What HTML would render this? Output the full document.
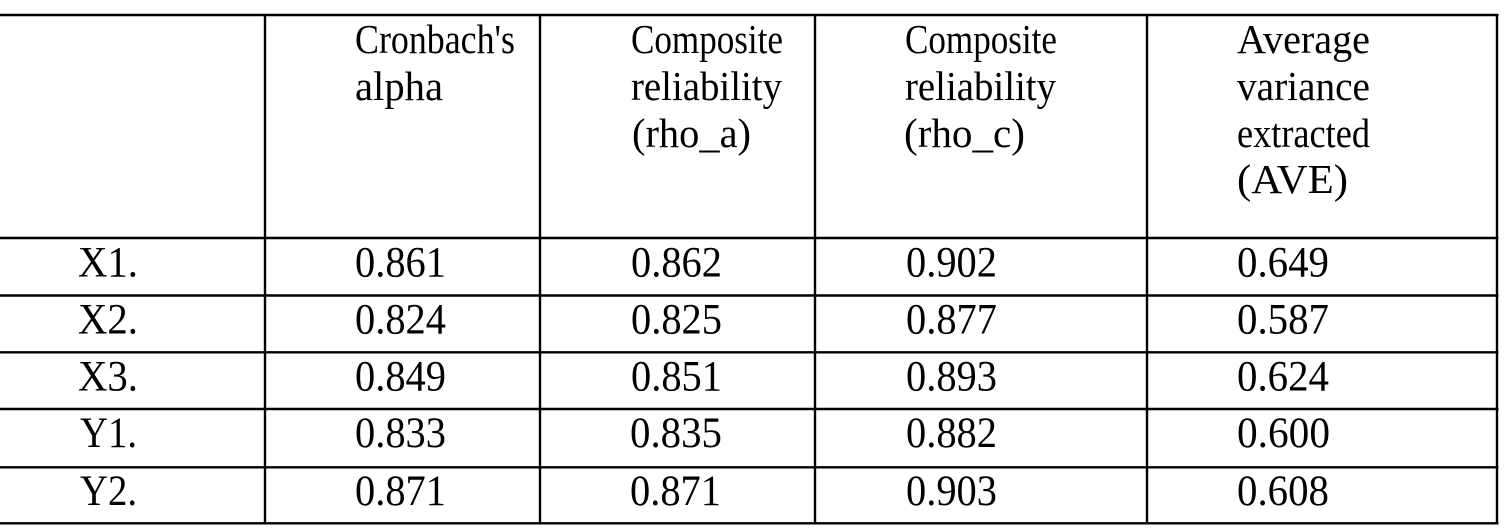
<!DOCTYPE html>
<html>
<head>
<meta charset="utf-8">
<style>
  html, body { margin:0; padding:0; background:#fff; }
  body { width:1504px; height:530px; overflow:hidden; }
  svg { display:block; }
  text { font-family: "Liberation Serif", "Times New Roman", serif; fill:#000; }
  .h { font-size:41px; }
  .v { font-size:43px; }
</style>
</head>
<body>
<svg width="1504" height="530" viewBox="0 0 1504 530" xmlns="http://www.w3.org/2000/svg">
  <rect width="1504" height="530" fill="#fff"/>
  <g stroke="#000" stroke-width="2.4" fill="none">
    <!-- horizontal lines -->
    <line x1="0" y1="15" x2="1498.5" y2="15"/>
    <line x1="0" y1="238" x2="1498.5" y2="238"/>
    <line x1="0" y1="295.5" x2="1498.5" y2="295.5"/>
    <line x1="0" y1="352.3" x2="1498.5" y2="352.3"/>
    <line x1="0" y1="409" x2="1498.5" y2="409"/>
    <line x1="0" y1="467.3" x2="1498.5" y2="467.3"/>
    <line x1="0" y1="523.3" x2="1498.5" y2="523.3"/>
    <!-- vertical lines -->
    <line x1="265" y1="14" x2="265" y2="524.5"/>
    <line x1="540" y1="14" x2="540" y2="524.5"/>
    <line x1="815" y1="14" x2="815" y2="524.5"/>
    <line x1="1147" y1="14" x2="1147" y2="524.5"/>
    <line x1="1497" y1="14" x2="1497" y2="524.5"/>
  </g>

  <!-- header -->
  <text class="h" x="355" y="53" textLength="160" lengthAdjust="spacingAndGlyphs">Cronbach's</text>
  <text class="h" x="355" y="100" textLength="88" lengthAdjust="spacingAndGlyphs">alpha</text>

  <text class="h" x="631" y="53" textLength="152" lengthAdjust="spacingAndGlyphs">Composite</text>
  <text class="h" x="631" y="100" textLength="151" lengthAdjust="spacingAndGlyphs">reliability</text>
  <text class="h" x="632" y="147" textLength="119" lengthAdjust="spacingAndGlyphs">(rho_a)</text>

  <text class="h" x="905" y="53" textLength="152" lengthAdjust="spacingAndGlyphs">Composite</text>
  <text class="h" x="905" y="100" textLength="151" lengthAdjust="spacingAndGlyphs">reliability</text>
  <text class="h" x="904" y="147" textLength="121" lengthAdjust="spacingAndGlyphs">(rho_c)</text>

  <text class="h" x="1237" y="53" textLength="133" lengthAdjust="spacingAndGlyphs">Average</text>
  <text class="h" x="1237" y="100" textLength="133" lengthAdjust="spacingAndGlyphs">variance</text>
  <text class="h" x="1237" y="147" textLength="133" lengthAdjust="spacingAndGlyphs">extracted</text>
  <text class="h" x="1237" y="193" textLength="111" lengthAdjust="spacingAndGlyphs">(AVE)</text>

  <!-- rows -->
  <g class="v">
    <text class="v" x="78" y="276.5" textLength="60" lengthAdjust="spacingAndGlyphs">X1.</text>
    <text class="v" x="355" y="276.5" textLength="91" lengthAdjust="spacingAndGlyphs">0.861</text>
    <text class="v" x="631" y="276.5" textLength="91" lengthAdjust="spacingAndGlyphs">0.862</text>
    <text class="v" x="906" y="276.5" textLength="91" lengthAdjust="spacingAndGlyphs">0.902</text>
    <text class="v" x="1237" y="276.5" textLength="92" lengthAdjust="spacingAndGlyphs">0.649</text>

    <text class="v" x="78" y="333.5" textLength="60" lengthAdjust="spacingAndGlyphs">X2.</text>
    <text class="v" x="355" y="333.5" textLength="91" lengthAdjust="spacingAndGlyphs">0.824</text>
    <text class="v" x="631" y="333.5" textLength="91" lengthAdjust="spacingAndGlyphs">0.825</text>
    <text class="v" x="906" y="333.5" textLength="91" lengthAdjust="spacingAndGlyphs">0.877</text>
    <text class="v" x="1237" y="333.5" textLength="92" lengthAdjust="spacingAndGlyphs">0.587</text>

    <text class="v" x="78" y="390.5" textLength="60" lengthAdjust="spacingAndGlyphs">X3.</text>
    <text class="v" x="355" y="390.5" textLength="91" lengthAdjust="spacingAndGlyphs">0.849</text>
    <text class="v" x="631" y="390.5" textLength="91" lengthAdjust="spacingAndGlyphs">0.851</text>
    <text class="v" x="906" y="390.5" textLength="91" lengthAdjust="spacingAndGlyphs">0.893</text>
    <text class="v" x="1237" y="390.5" textLength="92" lengthAdjust="spacingAndGlyphs">0.624</text>

    <text class="v" x="80" y="447" textLength="57" lengthAdjust="spacingAndGlyphs">Y1.</text>
    <text class="v" x="355" y="447" textLength="91" lengthAdjust="spacingAndGlyphs">0.833</text>
    <text class="v" x="630" y="447" textLength="92" lengthAdjust="spacingAndGlyphs">0.835</text>
    <text class="v" x="906" y="447" textLength="91" lengthAdjust="spacingAndGlyphs">0.882</text>
    <text class="v" x="1237" y="447" textLength="93" lengthAdjust="spacingAndGlyphs">0.600</text>

    <text class="v" x="80" y="505" textLength="57" lengthAdjust="spacingAndGlyphs">Y2.</text>
    <text class="v" x="355" y="505" textLength="91" lengthAdjust="spacingAndGlyphs">0.871</text>
    <text class="v" x="630" y="505" textLength="91" lengthAdjust="spacingAndGlyphs">0.871</text>
    <text class="v" x="906" y="505" textLength="91" lengthAdjust="spacingAndGlyphs">0.903</text>
    <text class="v" x="1237" y="505" textLength="92" lengthAdjust="spacingAndGlyphs">0.608</text>
  </g>
</svg>
</body>
</html>
